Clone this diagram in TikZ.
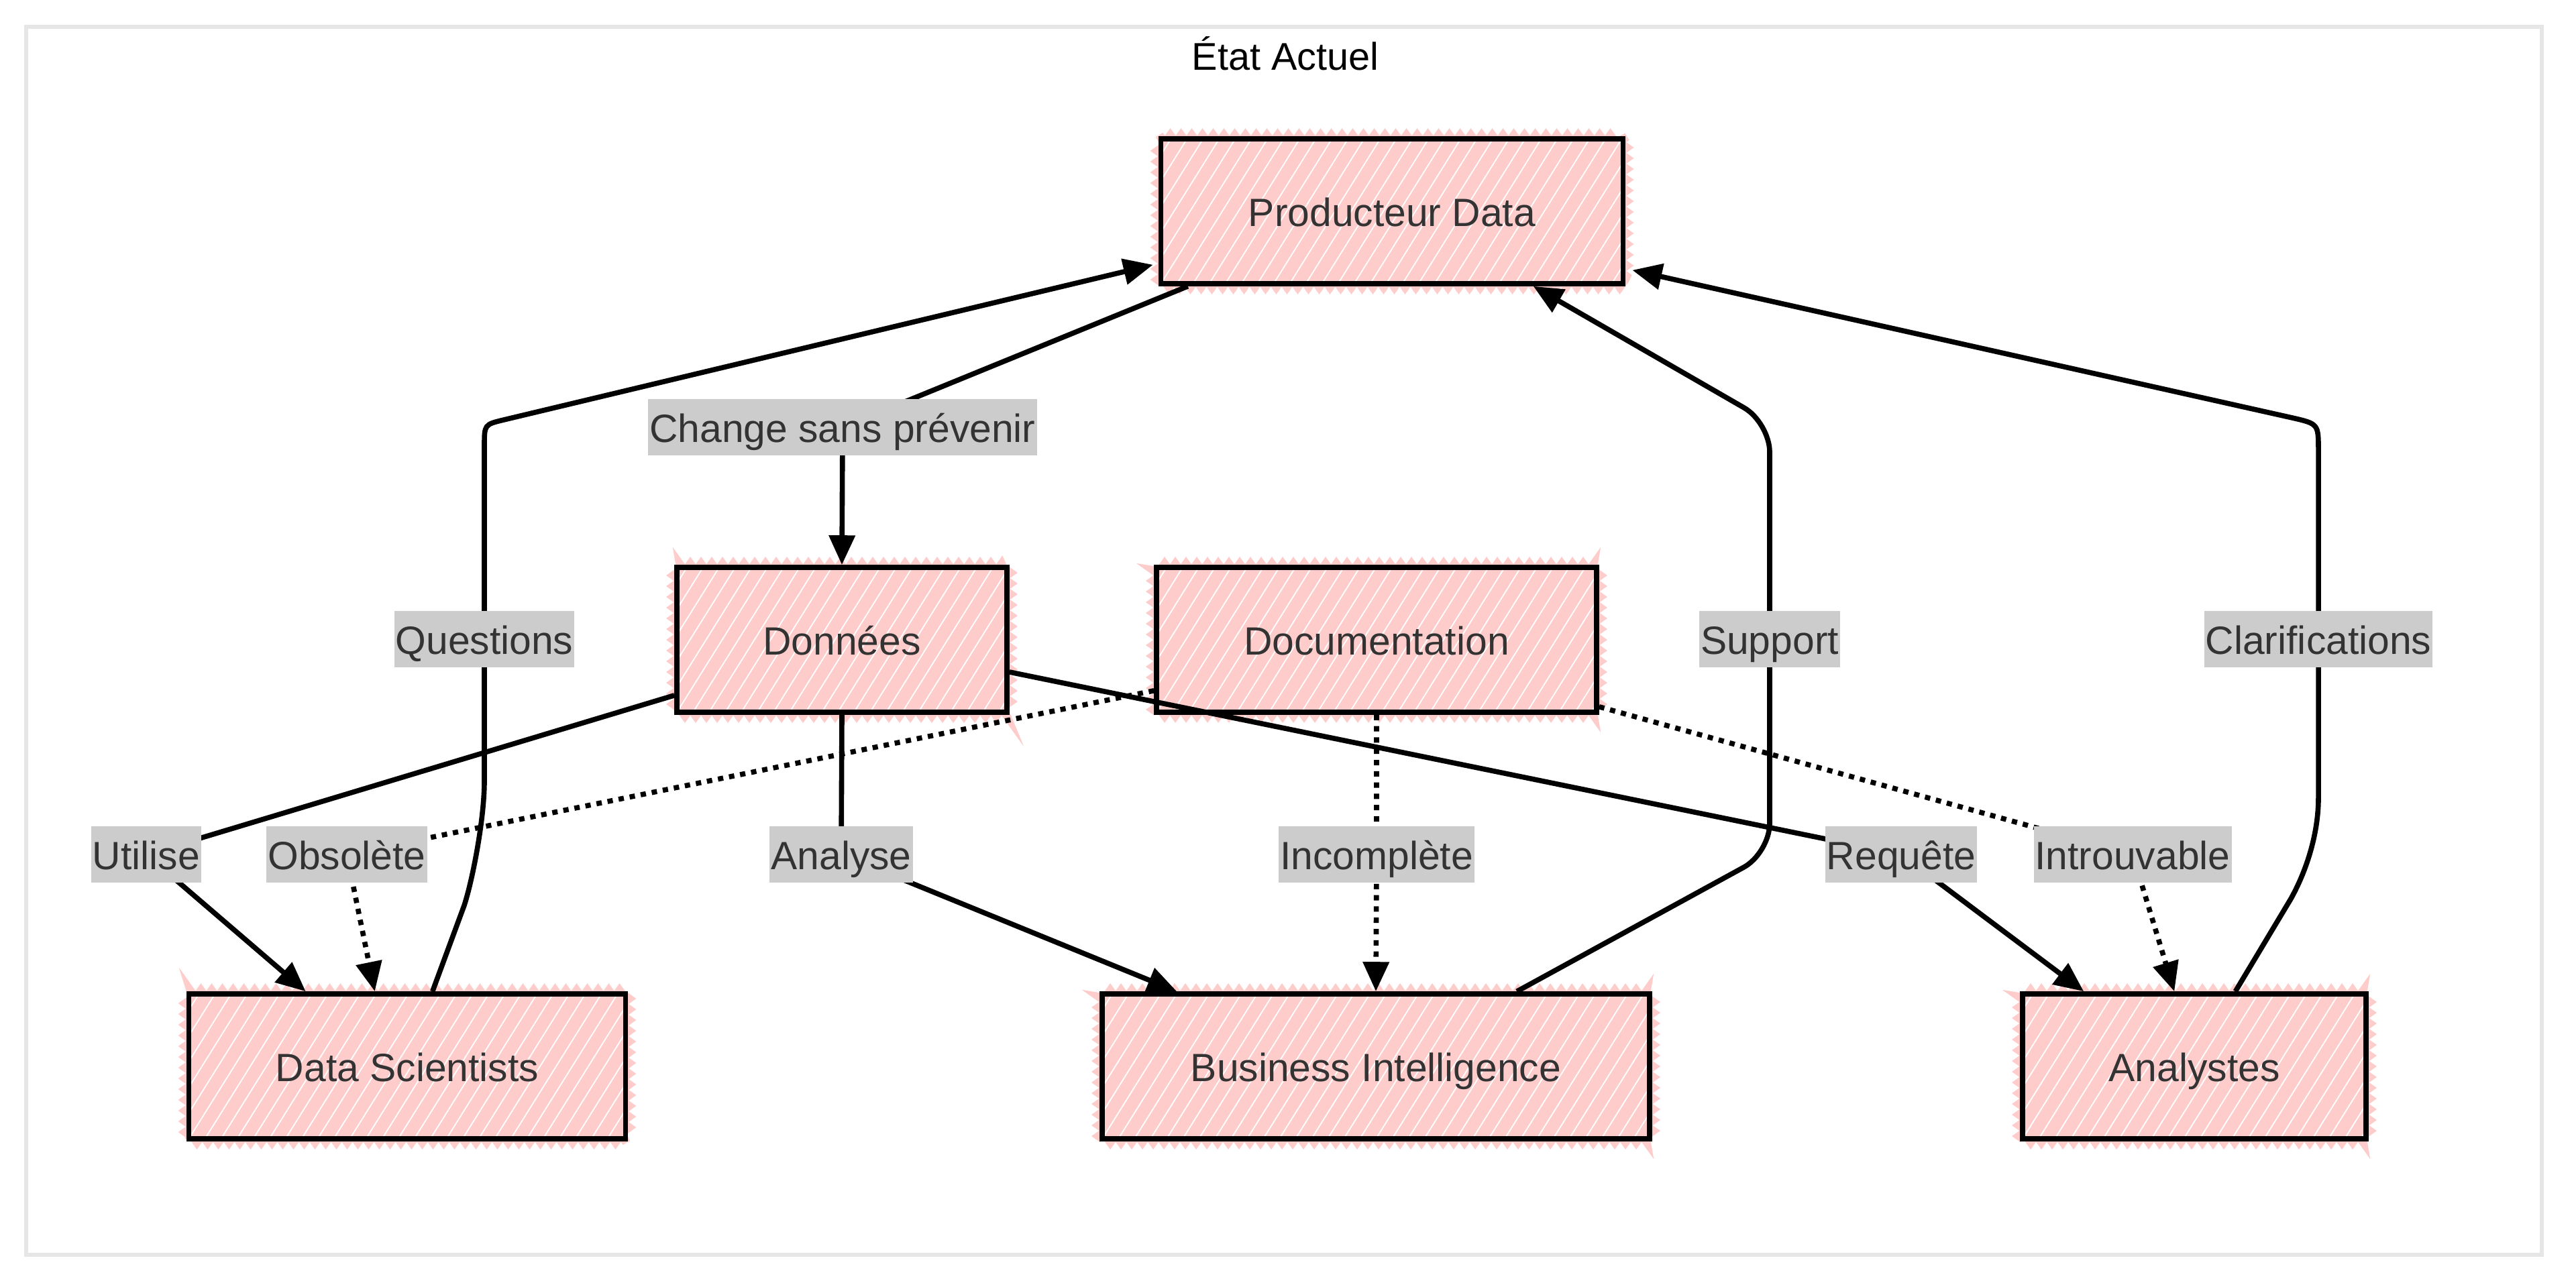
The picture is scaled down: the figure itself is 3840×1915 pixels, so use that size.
\documentclass[tikz,border=0pt]{standalone}
\usepackage{fontspec}
\setmainfont{Liberation Sans}
\usetikzlibrary{arrows.meta,calc,decorations.pathmorphing}
\definecolor{pinkfill}{HTML}{FFCCCC}
\definecolor{labfill}{HTML}{CCCCCC}
\definecolor{txt}{HTML}{333333}
\definecolor{framecol}{HTML}{E6E6E6}
\newcommand{\nodefont}{\fontsize{14.7}{17}\selectfont}
\tikzset{
  hatch/.style={path picture={
    \foreach \k in {-8,...,40}{
      \draw[white, line width=0.45pt] ([xshift=\k*6pt]path picture bounding box.south west) -- ++(58:80pt);
    }}},
  box/.style={draw=black, line width=1.9pt, fill=pinkfill, text=txt, font=\nodefont,
    inner sep=0pt, minimum height=54pt, text height=12pt, text depth=1pt, hatch,
    preaction={draw=pinkfill, line width=3pt, decorate,
      decoration={zigzag, segment length=4pt, amplitude=1.4pt}}},
  lab/.style={fill=labfill, text=txt, font=\nodefont, inner xsep=0.5pt, inner ysep=0pt,
    text height=12pt, text depth=1pt, minimum height=21pt},
  conn/.style={draw=black, line width=1.9pt, -{Triangle[length=11pt,width=9.5pt]}},
  dotconn/.style={conn, dash pattern=on 2pt off 2.2pt}
}
\begin{document}
\begin{tikzpicture}[x=0.25pt,y=-0.25pt]
\useasboundingbox (0,0) rectangle (3840,1915);
\draw[framecol, line width=1.4pt] (39,40) rectangle (3789,1871);
\node[font=\fontsize{14.4}{17}\selectfont, anchor=base] (title) at (1916,105) {État Actuel};

% boxes
\node[box, minimum width=172.25pt] (prod) at (2075,315) {Producteur Data};
\node[box, minimum width=123pt] (don) at (1255,954) {Données};
\node[box, minimum width=164pt] (doc) at (2052,954) {Documentation};
\node[box, minimum width=162.75pt] (ds) at (607,1590) {Data Scientists};
\node[box, minimum width=204pt] (bi) at (2051,1590) {Business Intelligence};
\node[box, minimum width=128pt] (ana) at (3271,1590) {Analystes};

% label positions
\coordinate (cchg) at (1256,637);
\coordinate (cque) at (722,953);
\coordinate (csup) at (2638,953);
\coordinate (ccla) at (3456,953);
\coordinate (cuti) at (218,1274);
\coordinate (cobs) at (517,1274);
\coordinate (cana) at (1254,1274);
\coordinate (cinc) at (2052,1274);
\coordinate (creq) at (2834,1274);
\coordinate (cint) at (3179,1274);

% edges
\draw[conn] ($(prod.south west)+(44,0)$) -- (cchg) -- (don.north);
\draw[conn] ($(don.south west)+(0,-29)$) -- (cuti) -- ($(ds.north west)+(178,0)$);
\draw[dotconn] ($(doc.south west)+(0,-36)$) -- (cobs) -- ($(ds.north west)+(281,0)$);
\draw[conn] ($(ds.north west)+(367,0)$) -- (692,1350) .. controls (705,1310) and (722,1220) .. (722,1165)
   -- (722,665) .. controls (722,633) .. (751,626) -- ($(prod.south west)+(-8,-32)$);
\draw[conn] (don.south) -- (cana) -- ($(bi.north west)+(115,0)$);
\draw[dotconn] (doc.south) -- (cinc) -- (bi.north);
\draw[conn, rounded corners=11pt] ($(bi.north west)+(622,0)$) -- (2638,1272) -- (2638,630) -- ($(prod.south west)+(559,0)$);
\draw[conn] ($(don.east)+(0,48)$) -- (creq) -- ($(ana.north west)+(95,0)$);
\draw[dotconn] ($(doc.south east)+(0,-12)$) -- (cint) -- ($(ana.north west)+(230,0)$);
\draw[conn] ($(ana.north west)+(321,0)$) -- (3415,1340) .. controls (3440,1295) and (3456,1240) .. (3456,1190)
   -- (3456,672) .. controls (3456,632) .. (3417,623) -- ($(prod.south east)+(10,-24)$);

% labels
\node[lab] (lchg) at (cchg) {Change sans prévenir};
\node[lab] (lque) at (cque) {Questions};
\node[lab] (lsup) at (csup) {Support};
\node[lab] (lcla) at (ccla) {Clarifications};
\node[lab] (luti) at (cuti) {Utilise};
\node[lab] (lobs) at (cobs) {Obsolète};
\node[lab] (lana) at (cana) {Analyse};
\node[lab] (linc) at (cinc) {Incomplète};
\node[lab] (lreq) at (creq) {Requête};
\node[lab] (lint) at (cint) {Introuvable};
\end{tikzpicture}
\end{document}
